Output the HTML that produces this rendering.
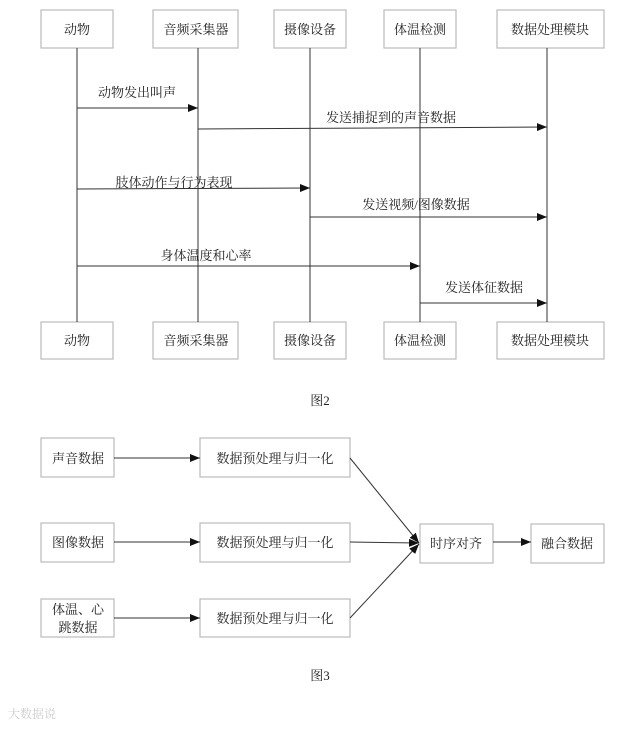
<!DOCTYPE html>
<html><head><meta charset="utf-8"><style>
body{margin:0;background:#fff;}
svg text{font-family:"Liberation Serif","Noto Serif CJK SC","Noto Sans CJK SC",serif;fill:#222;}
</style></head><body>
<svg width="640" height="726" viewBox="0 0 640 726" xmlns="http://www.w3.org/2000/svg">
<defs><marker id="a" markerWidth="10" markerHeight="8" refX="10" refY="4" orient="auto" markerUnits="userSpaceOnUse"><path d="M0,0 L10,4 L0,8 z" fill="#111"/></marker></defs>
<g stroke="#bbb" fill="#fff" stroke-width="1.2">
<rect x="41" y="10" width="72" height="38"/><rect x="153" y="10" width="85" height="38"/><rect x="274" y="10" width="72" height="38"/><rect x="384" y="10" width="72" height="38"/><rect x="497" y="10" width="107" height="38"/>
<rect x="41" y="322" width="72" height="37"/><rect x="153" y="322" width="85" height="37"/><rect x="274" y="322" width="72" height="37"/><rect x="384" y="322" width="72" height="37"/><rect x="497" y="322" width="107" height="37"/>
</g>
<g stroke="#333" stroke-width="1">
<line x1="77" y1="48" x2="77" y2="322"/><line x1="198" y1="48" x2="198" y2="322"/><line x1="310" y1="48" x2="310" y2="322"/><line x1="420" y1="48" x2="420" y2="322"/><line x1="547" y1="48" x2="547" y2="322"/>
<line x1="77" y1="108" x2="198" y2="108" marker-end="url(#a)"/>
<line x1="198" y1="129" x2="547" y2="127" marker-end="url(#a)"/>
<line x1="77" y1="189" x2="310" y2="188" marker-end="url(#a)"/>
<line x1="310" y1="217" x2="547" y2="217" marker-end="url(#a)"/>
<line x1="77" y1="266" x2="420" y2="266" marker-end="url(#a)"/>
<line x1="420" y1="303" x2="547" y2="303" marker-end="url(#a)"/>
</g>
<g font-size="13" text-anchor="middle">
<text x="77" y="34">动物</text><text x="196" y="34">音频采集器</text><text x="310" y="34">摄像设备</text><text x="420" y="34">体温检测</text><text x="550" y="34">数据处理模块</text>
<text x="77" y="345">动物</text><text x="196" y="345">音频采集器</text><text x="310" y="345">摄像设备</text><text x="420" y="345">体温检测</text><text x="550" y="345">数据处理模块</text>
<text x="137" y="97">动物发出叫声</text>
<text x="391" y="122">发送捕捉到的声音数据</text>
<text x="174" y="187">肢体动作与行为表现</text>
<text x="416" y="209">发送视频/图像数据</text>
<text x="206" y="260">身体温度和心率</text>
<text x="484" y="292">发送体征数据</text>
<text x="320" y="405">图2</text>
<text x="320" y="680">图3</text>
</g>
<g stroke="#bbb" fill="#fff" stroke-width="1.2">
<rect x="41" y="438" width="73" height="39"/><rect x="41" y="523" width="73" height="39"/><rect x="41" y="599" width="73" height="38"/>
<rect x="200" y="438" width="150" height="39"/><rect x="200" y="523" width="150" height="39"/><rect x="200" y="599" width="150" height="38"/>
<rect x="420" y="524" width="73" height="39"/><rect x="531" y="524" width="73" height="39"/>
</g>
<g stroke="#333" stroke-width="1">
<line x1="114" y1="458" x2="200" y2="458" marker-end="url(#a)"/>
<line x1="114" y1="542" x2="200" y2="542" marker-end="url(#a)"/>
<line x1="114" y1="618" x2="200" y2="618" marker-end="url(#a)"/>
<line x1="350" y1="458" x2="419" y2="543" marker-end="url(#a)"/>
<line x1="350" y1="542" x2="419" y2="543" marker-end="url(#a)"/>
<line x1="350" y1="618" x2="419" y2="544" marker-end="url(#a)"/>
<line x1="493" y1="542" x2="531" y2="542" marker-end="url(#a)"/>
</g>
<g font-size="13" text-anchor="middle">
<text x="78" y="463">声音数据</text><text x="78" y="547">图像数据</text>
<text x="78" y="614">体温、心</text><text x="78" y="632">跳数据</text>
<text x="275" y="463">数据预处理与归一化</text><text x="275" y="547">数据预处理与归一化</text><text x="275" y="623">数据预处理与归一化</text>
<text x="456" y="548">时序对齐</text><text x="567" y="548">融合数据</text>
</g>
<text x="8" y="718" font-size="12" style="fill:#ccc">大数据说</text>
</svg>
</body></html>
